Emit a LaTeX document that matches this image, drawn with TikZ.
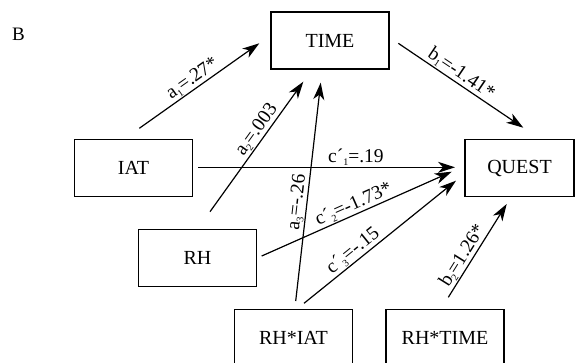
\documentclass[tikz,border=0pt]{standalone}
\usepackage{fontspec}
\setmainfont{Liberation Serif}
\usetikzlibrary{arrows.meta}
\newcommand{\lsub}[1]{\raisebox{-0.35ex}{\fontsize{10}{10}\selectfont #1}}
\tikzset{
  varbox/.style={draw, line width=1.2pt, minimum width=118pt, minimum height=57pt, inner sep=0pt, font=\fontsize{20}{24}\selectfont},
  effect/.style={line width=1.2pt, -{Stealth[length=17pt,width=11pt,inset=5pt]}},
  coef/.style={font=\fontsize{19.5}{22}\selectfont, inner sep=1pt, sloped, above}
}
\begin{document}
\begin{tikzpicture}[x=1pt,y=1pt]
            \useasboundingbox (0,0) rectangle (576,-362);
            \clip (0,0) rectangle (576,-362);
            % Text Node
            \node[font=\fontsize{19}{22}\selectfont] (panel) at (18.5,-34) {B};
            %Shape: Rectangle
            \node[varbox] (time) at (330,-40.5) {TIME};
            \node[varbox] (iat) at (133.5,-168) {IAT};
            \node[varbox] (rh) at (197.5,-258) {RH};
            \node[varbox, minimum width=109pt] (quest) at (519.5,-168) {QUEST};
            \node[varbox] (rhiat) at (293.5,-338) {RH*IAT};
            \node[varbox] (rhtime) at (445,-338) {RH*TIME};

            % free ends of the paths
            \coordinate (a1s) at (139.3,-128.3);  \coordinate (a1e) at (259.3,-43.3);
            \coordinate (b1s) at (398.3,-43.3);   \coordinate (b1e) at (523.3,-127.7);
            \coordinate (a2s) at (210,-211.7);    \coordinate (a2e) at (303.3,-81.7);
            \coordinate (a3s) at (295.7,-301);    \coordinate (a3e) at (320.7,-82.7);
            \coordinate (c1s) at (198.3,-167.3);  \coordinate (c1e) at (455,-167.3);
            \coordinate (c2s) at (261.7,-256);    \coordinate (c2e) at (451.7,-171.7);
            \coordinate (c3s) at (304,-303.3);    \coordinate (c3e) at (456,-180.7);
            \coordinate (b2s) at (448.3,-297.3);  \coordinate (b2e) at (506.7,-204);

            %Straight Lines
            \draw[effect] (a1s) -- node[coef, pos=0.49] {a\lsub{1}=.27*} (a1e);
            \draw[effect] (b1s) -- node[coef, pos=0.46] {b\lsub{1}=-1.41*} (b1e);
            \draw[effect] (a2s) -- node[coef, pos=0.585] {a\lsub{2}=.003} (a2e);
            \draw[effect] (a3s) -- node[coef, pos=0.447] {a\lsub{3}=-.26} (a3e);
            \draw[effect] (c1s) -- node[coef, pos=0.614] {c´\lsub{1}=.19} (c1e);
            \draw[effect] (c2s) -- node[coef, pos=0.505] {c´\lsub{2}=-1.73*} (c2e);
            \draw[effect] (c3s) -- node[coef, pos=0.364] {c´\lsub{3}=-.15} (c3e);
            \draw[effect] (b2s) -- node[coef, pos=0.39] {b\lsub{2}=1.26*} (b2e);
        \end{tikzpicture}
\end{document}
